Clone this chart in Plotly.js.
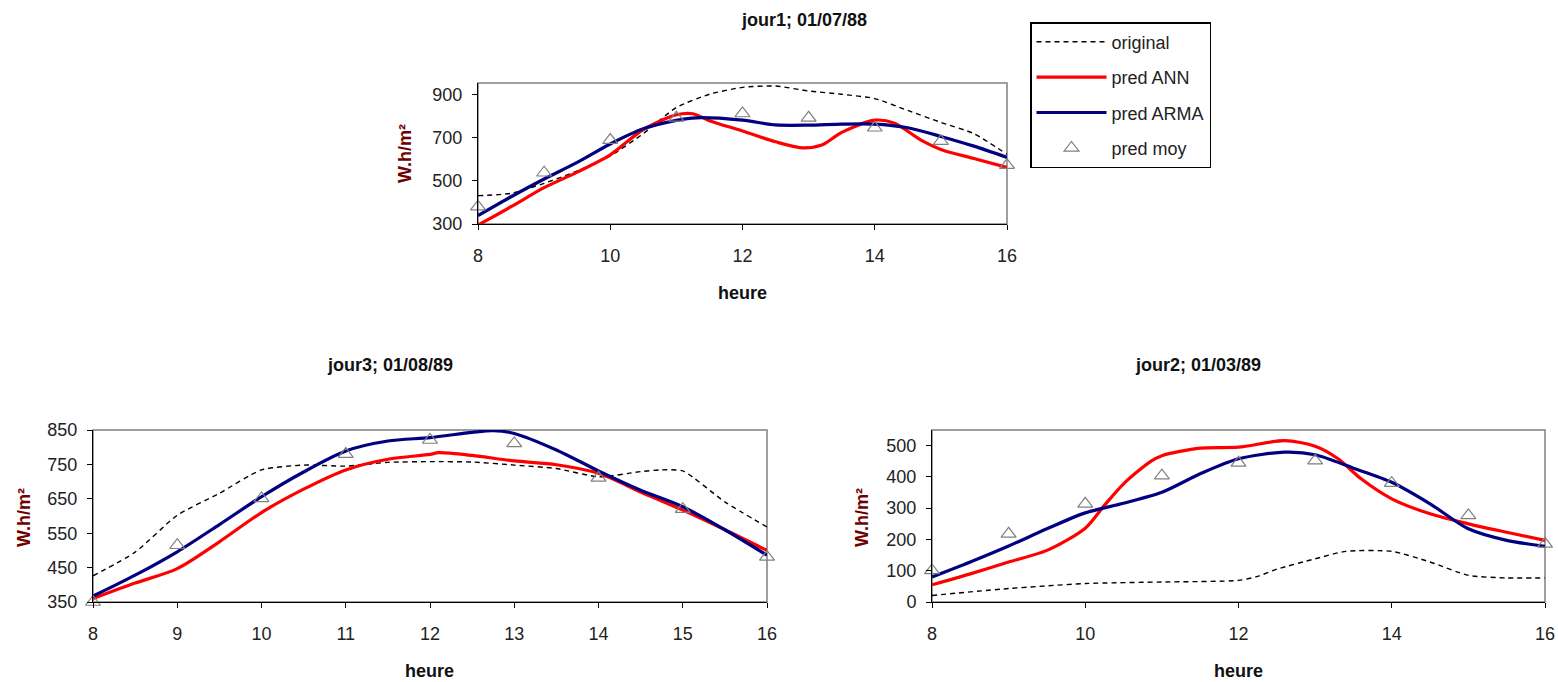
<!DOCTYPE html>
<html>
<head>
<meta charset="utf-8">
<script src="https://cdn.plot.ly/plotly-3.0.1.min.js"></script>
<style>html,body{margin:0;padding:0;background:#fff;}#chart{width:1558px;height:682px;}</style>
</head>
<body>
<div id="chart"></div>
<script>
// ---------- data ----------
const hours = [8, 9, 10, 11, 12, 13, 14, 15, 16];

// jour1; 01/07/88
const orig1X = [8, 8.5, 9, 9.5, 10, 10.5, 11, 11.5, 12, 12.5, 13, 13.5, 14, 14.5, 15, 15.5, 16];
const orig1  = [431, 442, 488, 545, 615, 718, 839, 900, 932, 938, 915, 900, 880, 825, 770, 718, 622];
const ann1X  = [8, 8.5, 9, 9.5, 10, 10.5, 11, 11.25, 11.5, 12, 12.5, 12.9, 13.2, 13.5, 14, 14.3, 14.7, 15, 15.5, 16];
const ann1   = [295, 380, 468, 540, 620, 737, 805, 810, 778, 730, 680, 652, 665, 724, 780, 766, 688, 645, 603, 562];
const arma1X = [8, 8.5, 9, 9.5, 10, 10.5, 11, 11.3, 12, 12.5, 13, 13.5, 14, 14.5, 15, 15.5, 16];
const arma1  = [339, 426, 508, 585, 670, 740, 779, 791, 780, 758, 757, 762, 762, 745, 705, 660, 608];
const moy1   = [380, 537, 688, 791, 811, 791, 745, 683, 572];

// jour3; 01/08/89
const orig3X = [8, 8.5, 9, 9.5, 10, 10.5, 11, 11.5, 12, 12.5, 13, 13.5, 14, 14.5, 14.75, 15, 15.5, 16];
const orig3  = [426, 495, 602, 666, 734, 748, 745, 756, 758, 757, 748, 738, 714, 729, 734, 731, 641, 568];
const ann3X  = [8, 8.5, 9, 9.5, 10, 10.5, 11, 11.5, 12, 12.1, 12.5, 13, 13.5, 14, 14.5, 15, 15.5, 16];
const ann3   = [360, 405, 447, 525, 610, 678, 734, 765, 779, 784, 776, 760, 749, 724, 670, 617, 560, 500];
const arma3X = [8, 8.5, 9, 9.5, 10, 10.5, 11, 11.5, 12, 12.5, 12.75, 13, 13.5, 14, 14.5, 15, 15.5, 16];
const arma3  = [367, 428, 496, 575, 656, 728, 789, 818, 828, 843, 848, 840, 792, 731, 675, 627, 560, 486];
const moy3   = [350, 515, 651, 780, 821, 811, 711, 620, 481];

// jour2; 01/03/89
const orig2X = [8, 9, 10, 11, 12, 12.25, 12.5, 13, 13.4, 14, 14.5, 15, 15.5, 16];
const orig2  = [21, 43, 59, 64, 69, 82, 105, 138, 162, 162, 128, 85, 77, 77];
const ann2X  = [8, 8.5, 9, 9.5, 10, 10.25, 10.5, 10.85, 11, 11.5, 12, 12.6, 13, 13.3, 13.6, 14, 14.5, 15, 15.5, 16];
const ann2   = [55, 90, 128, 165, 236, 309, 378, 449, 468, 492, 495, 516, 498, 458, 394, 330, 282, 250, 223, 197];
const arma2X = [8, 8.5, 9, 9.5, 10, 10.5, 11, 11.5, 12, 12.6, 13, 13.5, 14, 14.5, 15, 15.5, 16];
const arma2  = [80, 128, 179, 234, 285, 316, 351, 410, 458, 479, 471, 428, 383, 314, 234, 197, 178];
const moy2   = [101, 218, 314, 404, 445, 452, 380, 277, 186];

const seriesNames = ['original', 'pred ANN', 'pred ARMA', 'pred moy'];
const titles = ['jour1; 01/07/88', 'jour3; 01/08/89', 'jour2; 01/03/89'];
const yTitle = 'W.h/m²';
const xTitle = 'heure';

// ---------- styling ----------
const W = 1558, H = 682;
const FONT = 'Liberation Sans, Arial, sans-serif';
const RED = '#ff0000', NAVY = '#000080', GRAY = '#808080';

function makeTraces(ox, o, ax, a, mx, m, moy, xa, ya, legend) {
  return [
    {x: ox, y: o, xaxis: xa, yaxis: ya, mode: 'lines', name: seriesNames[0], legendgroup: 'g0', showlegend: legend,
     line: {color: '#000', width: 1.4, dash: '5px,4px', shape: 'spline', smoothing: 0.6}},
    {x: ax, y: a, xaxis: xa, yaxis: ya, mode: 'lines', name: seriesNames[1], legendgroup: 'g1', showlegend: legend,
     line: {color: RED, width: 3.2, shape: 'spline', smoothing: 0.8}},
    {x: mx, y: m, xaxis: xa, yaxis: ya, mode: 'lines', name: seriesNames[2], legendgroup: 'g2', showlegend: legend,
     line: {color: NAVY, width: 3.2, shape: 'spline', smoothing: 0.8}},
    {x: hours, y: moy, xaxis: xa, yaxis: ya, mode: 'markers', name: seriesNames[3], legendgroup: 'g3', showlegend: legend,
     marker: {symbol: 'triangle-up-open', size: 13, color: GRAY, line: {width: 1.2, color: GRAY}}, cliponaxis: false}
  ];
}

const data = [].concat(
  makeTraces(orig1X, orig1, ann1X, ann1, arma1X, arma1, moy1, 'x', 'y', true),
  makeTraces(orig3X, orig3, ann3X, ann3, arma3X, arma3, moy3, 'x2', 'y2', false),
  makeTraces(orig2X, orig2, ann2X, ann2, arma2X, arma2, moy2, 'x3', 'y3', false)
);
data.forEach(t => { if (t.mode === 'lines') t.cliponaxis = false; });

const px = v => v / W;
const py = v => 1 - v / H;

function xAxis(domain, dtick, anchor) {
  return {domain: domain, anchor: anchor, range: [8, 16], dtick: dtick, tick0: 8,
    ticks: 'outside', ticklen: 5, tickcolor: '#000', tickwidth: 1,
    showline: true, linecolor: '#000', linewidth: 1, showgrid: false, zeroline: false,
    ticklabelstandoff: 10,
    tickfont: {family: FONT, size: 18, color: '#222'}};
}
function yAxis(domain, range, dtick, tick0, anchor) {
  return {domain: domain, anchor: anchor, range: range, dtick: dtick, tick0: tick0,
    ticks: 'outside', ticklen: 5, tickcolor: '#000', tickwidth: 1,
    showline: true, linecolor: '#000', linewidth: 1, showgrid: false, zeroline: false,
    ticklabelstandoff: 6,
    tickfont: {family: FONT, size: 18, color: '#222'}};
}

function ann(text, x, y, opts) {
  return Object.assign({text: text, x: px(x), y: py(y), xref: 'paper', yref: 'paper',
    xanchor: 'center', yanchor: 'middle', showarrow: false,
    font: {family: FONT, size: 18, color: '#111', weight: 'bold'}}, opts || {});
}

const yTitleFont = {family: FONT, size: 18, color: '#700000', weight: 'bold'};

function frame(xr, yr) {
  return {type: 'rect', xref: xr + ' domain', yref: yr + ' domain', x0: 0, x1: 1, y0: 0, y1: 1,
    line: {color: GRAY, width: 1.5}, layer: 'below'};
}

const layout = {
  width: W, height: H,
  margin: {l: 0, r: 0, t: 0, b: 0},
  paper_bgcolor: '#fff', plot_bgcolor: '#fff',
  font: {family: FONT},
  xaxis:  xAxis([px(478), px(1007)], 2, 'y'),
  yaxis:  yAxis([py(224), py(83)], [300, 952], 200, 300, 'x'),
  xaxis2: xAxis([px(93), px(767)], 1, 'y2'),
  yaxis2: yAxis([py(602), py(430)], [350, 850], 100, 350, 'x2'),
  xaxis3: xAxis([px(932), px(1545)], 2, 'y3'),
  yaxis3: yAxis([py(602), py(430)], [0, 550], 100, 0, 'x3'),
  shapes: [frame('x', 'y'), frame('x2', 'y2'), frame('x3', 'y3')],
  showlegend: true,
  legend: {x: px(1030), y: py(22), xanchor: 'left', yanchor: 'top',
    bordercolor: '#000', borderwidth: 1.5, bgcolor: '#fff',
    font: {family: FONT, size: 18, color: '#222'},
    itemwidth: 70, tracegroupgap: 9, traceorder: 'grouped',
    entrywidth: 110, entrywidthmode: 'pixels'},
  annotations: [
    ann(titles[0], 804, 20),
    ann(titles[1], 390, 365),
    ann(titles[2], 1198, 365),
    ann(xTitle, 742, 293),
    ann(xTitle, 430, 671),
    ann(xTitle, 1238, 671),
    ann(yTitle, 405, 154, {textangle: -90, font: yTitleFont}),
    ann(yTitle, 24, 518, {textangle: -90, font: yTitleFont}),
    ann(yTitle, 862, 518, {textangle: -90, font: yTitleFont})
  ]
};

Plotly.newPlot('chart', data, layout, {staticPlot: true, displayModeBar: false});
</script>
</body>
</html>
